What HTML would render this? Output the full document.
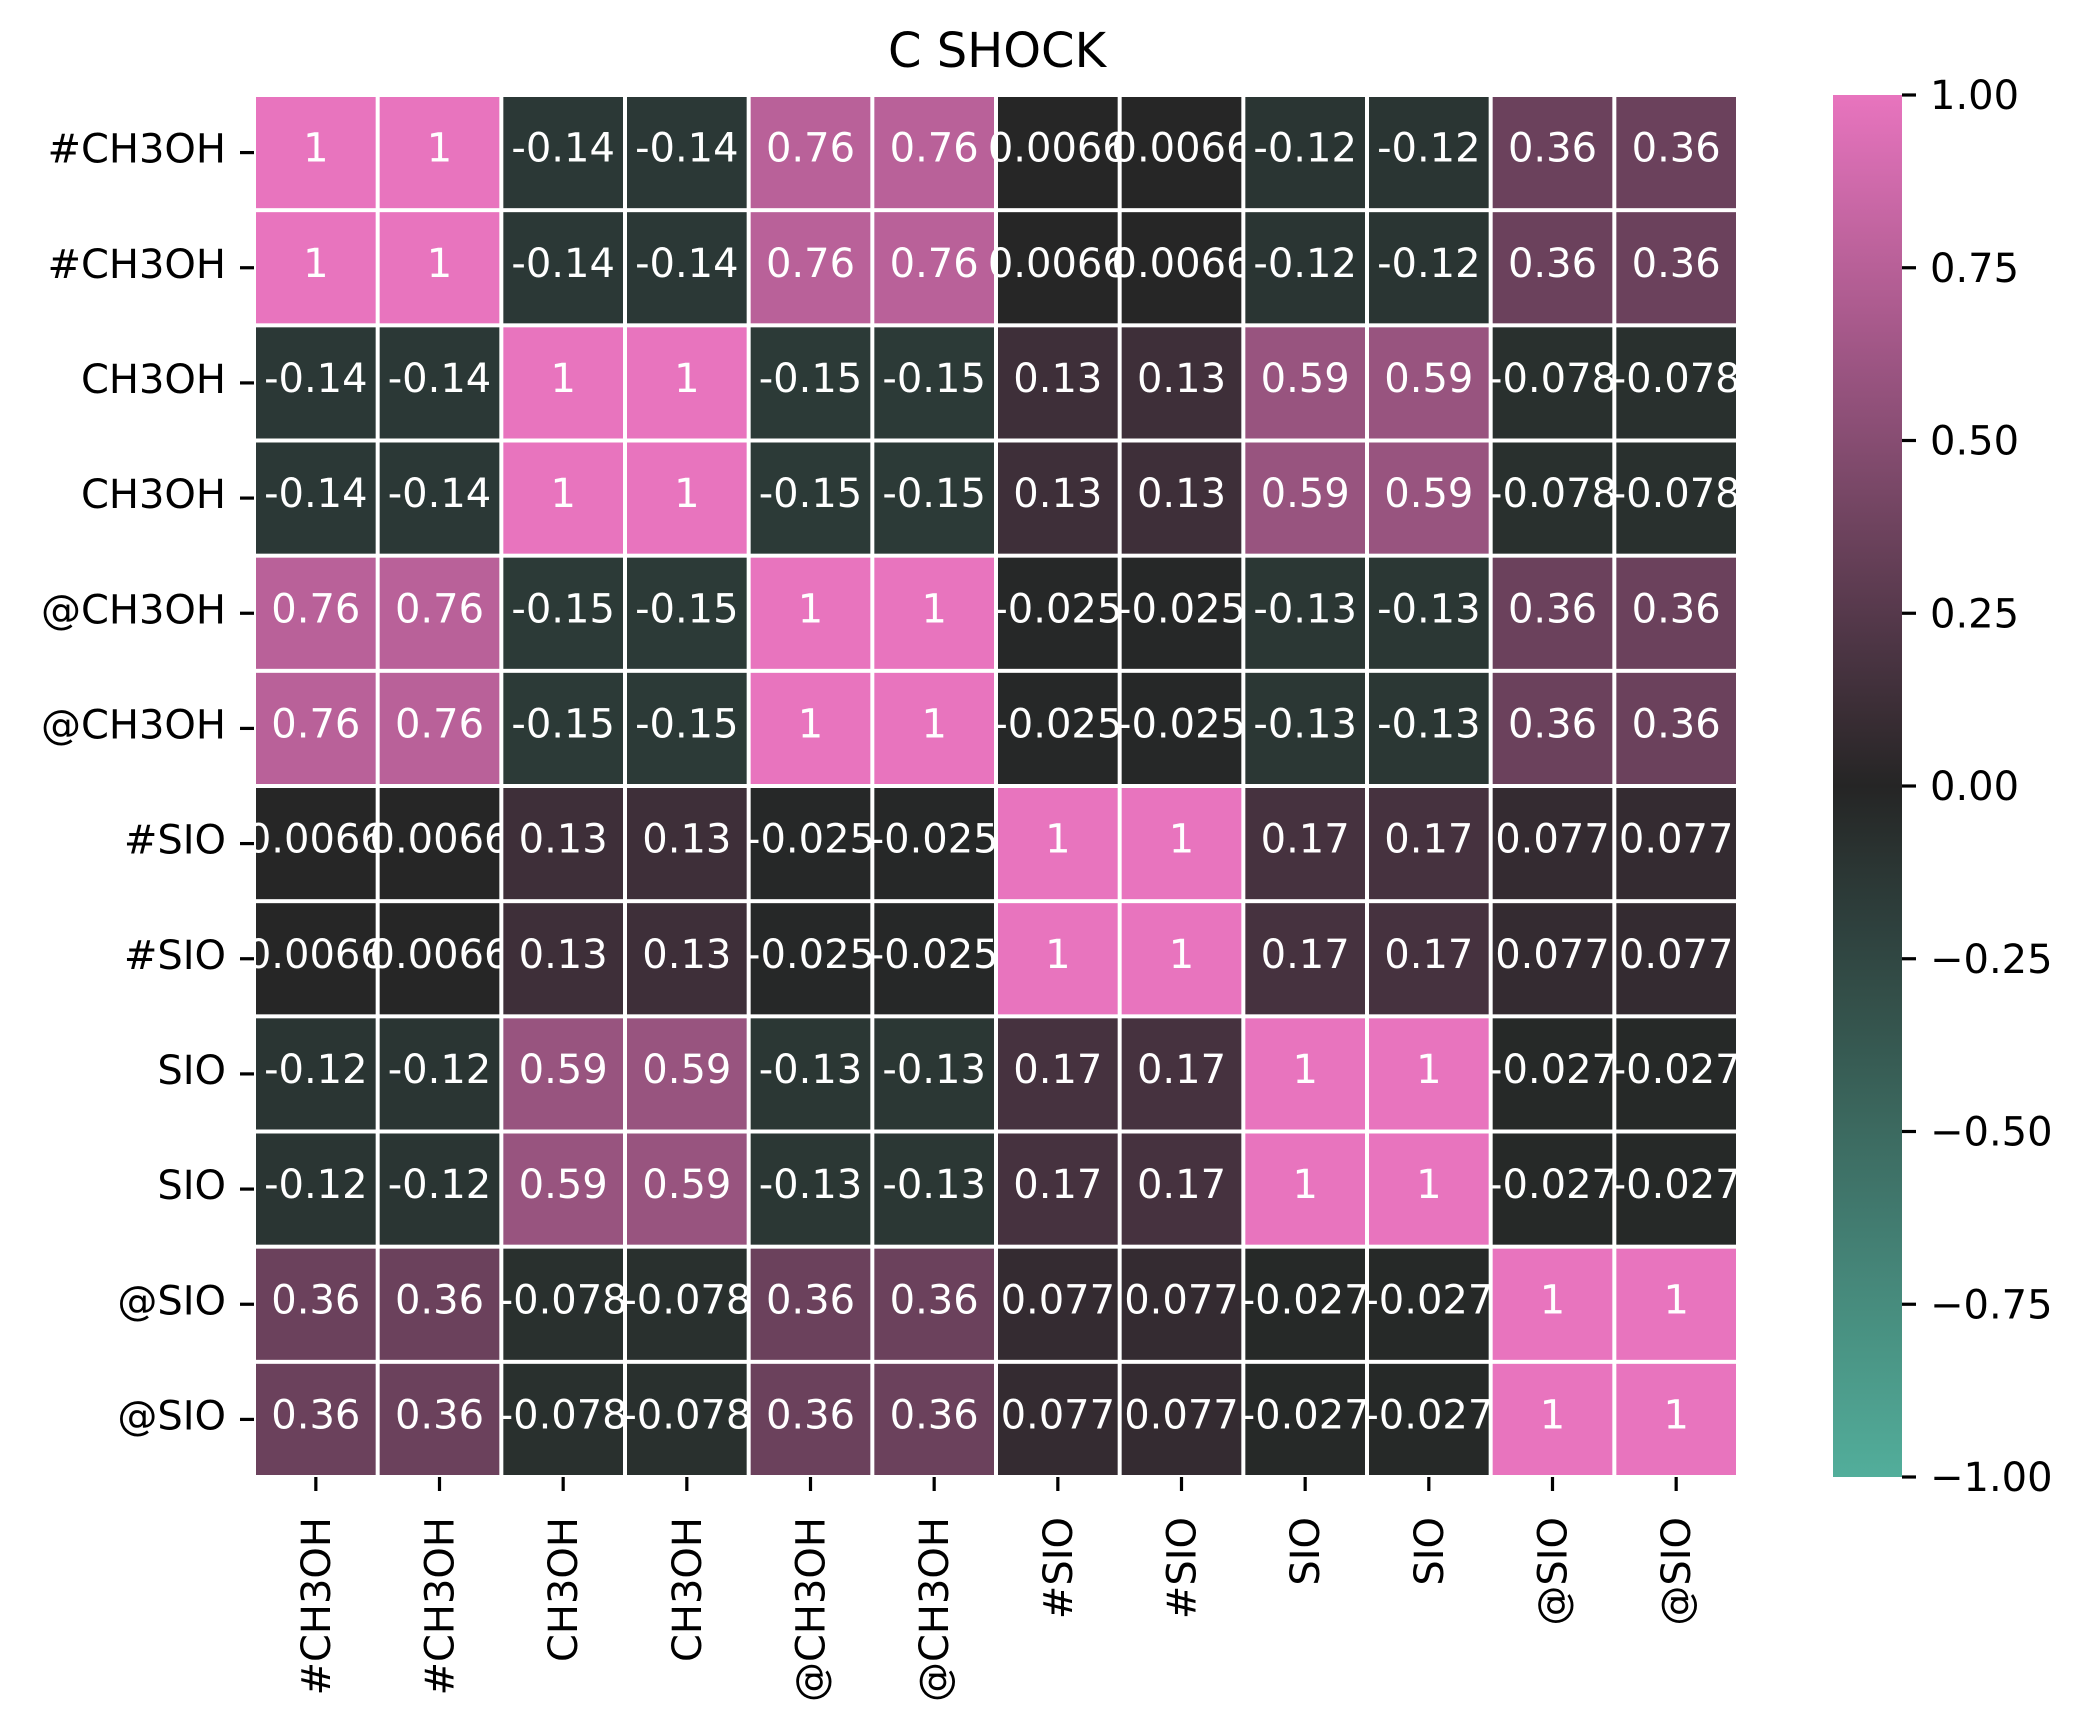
<!DOCTYPE html>
<html><head><meta charset="utf-8"><style>
html,body{margin:0;padding:0;background:#fff;}
svg{display:block;font-family:"DejaVu Sans","Liberation Sans",sans-serif;}
</style></head><body>
<svg id="chart" width="2089" height="1731" xmlns="http://www.w3.org/2000/svg">
<text x="997" y="67" font-size="48" text-anchor="middle" fill="#000">C SHOCK</text>
<g id="cells"></g>
<g id="ylabels"></g>
<g id="xlabels"></g>
<g id="cbar"></g>
</svg>
<script>
const labels = ["#CH3OH","#CH3OH","CH3OH","CH3OH","@CH3OH","@CH3OH","#SIO","#SIO","SIO","SIO","@SIO","@SIO"];
const baseVars = ["#CH3OH","CH3OH","@CH3OH","#SIO","SIO","@SIO"];
const baseCorr = [
  [1, -0.14, 0.76, 0.0066, -0.12, 0.36],
  [-0.14, 1, -0.15, 0.13, 0.59, -0.078],
  [0.76, -0.15, 1, -0.025, -0.13, 0.36],
  [0.0066, 0.13, -0.025, 1, 0.17, 0.077],
  [-0.12, 0.59, -0.13, 0.17, 1, -0.027],
  [0.36, -0.078, 0.36, 0.077, -0.027, 1]
];
const cbarTicks = [1, 0.75, 0.5, 0.25, 0, -0.25, -0.5, -0.75, -1];
const cbarTickLabels = ["1.00","0.75","0.50","0.25","0.00","\u22120.25","\u22120.50","\u22120.75","\u22121.00"];

const NS = "http://www.w3.org/2000/svg";
const L = 254, R = 1738, T = 95, B = 1477;
const n = labels.length;
const cw = (R - L) / n, ch = (B - T) / n;
const vmin = -1, vmax = 1;
const CB_L = 1833, CB_R = 1902;
const neg = [82,174,155], mid = [37,37,37], pos = [232,116,190];
function color(v){
  const t = Math.max(-1, Math.min(1, v));
  const end = t >= 0 ? pos : neg, a = Math.abs(t);
  const c = mid.map((m,i)=>Math.round(m + a*(end[i]-m)));
  return "rgb("+c.join(",")+")";
}
function fmt(v){ return String(Number(v.toPrecision(2))); }
function xPos(j){ return L + j*cw; }
function yPos(i){ return T + i*ch; }
function cbY(v){ return B - (v - vmin)/(vmax - vmin)*(B - T); }
function el(tag, attrs){ const e = document.createElementNS(NS, tag); for (const k in attrs) e.setAttribute(k, attrs[k]); return e; }

const cells = document.getElementById("cells");
for (let i=0;i<n;i++){
  for (let j=0;j<n;j++){
    const v = baseCorr[Math.floor(i/2)][Math.floor(j/2)];
    const r = el("rect",{x:xPos(j)+2,y:yPos(i)+2,width:cw-4,height:ch-4,fill:color(v)});
    
    
    cells.appendChild(r);
    const t = el("text",{x:xPos(j)+cw/2,y:yPos(i)+ch/2+9,"font-size":40,"text-anchor":"middle",fill:"#fff"});
    t.textContent = fmt(v);
    
    
    cells.appendChild(t);
  }
}
const yl = document.getElementById("ylabels");
const xl = document.getElementById("xlabels");
for (let i=0;i<n;i++){
  const cy = yPos(i)+ch/2;
  const tk = el("line",{x1:L-14,x2:L,y1:cy,y2:cy,stroke:"#000","stroke-width":3.2});
  
  
  yl.appendChild(tk);
  const t = el("text",{x:L-28,y:cy+10,"font-size":40,"text-anchor":"end",fill:"#000"});
  t.textContent = labels[i];
  
  
  yl.appendChild(t);
  const cx = xPos(i)+cw/2;
  const tk2 = el("line",{x1:cx,x2:cx,y1:B,y2:B+14,stroke:"#000","stroke-width":3.2});
  
  
  xl.appendChild(tk2);
  const t2 = el("text",{x:0,y:0,"font-size":40,"text-anchor":"end",fill:"#000",transform:"translate("+(cx+14)+","+(B+40)+") rotate(-90)"});
  t2.textContent = labels[i];
  
  
  xl.appendChild(t2);
}
const cb = document.getElementById("cbar");
const defs = el("defs",{});
const grad = el("linearGradient",{id:"cbg",x1:0,y1:1,x2:0,y2:0});
for (let k=0;k<=20;k++){
  const v = vmin + k*(vmax-vmin)/20;
  grad.appendChild(el("stop",{offset:(k/20),"stop-color":color(v)}));
}
defs.appendChild(grad); cb.appendChild(defs);
const cbr = el("rect",{x:CB_L,y:T,width:CB_R-CB_L,height:B-T,fill:"url(#cbg)"});


cb.appendChild(cbr);
cbarTicks.forEach((v,k)=>{
  const y = cbY(v);
  const tk = el("line",{x1:CB_R,x2:CB_R+14,y1:y,y2:y,stroke:"#000","stroke-width":3.2});
  
  
  cb.appendChild(tk);
  const t = el("text",{x:CB_R+28,y:y+14,"font-size":40,fill:"#000"});
  t.textContent = cbarTickLabels[k];
  
  
  cb.appendChild(t);
});
</script>
</body></html>
